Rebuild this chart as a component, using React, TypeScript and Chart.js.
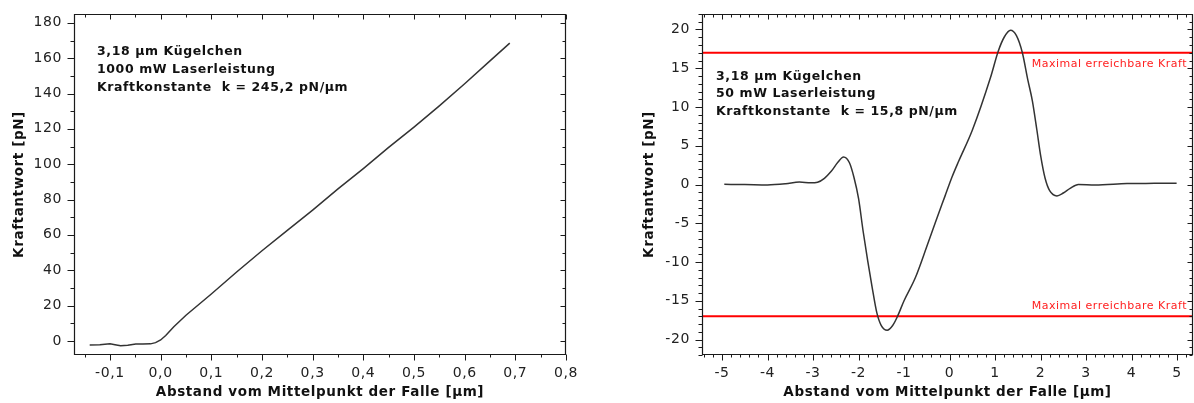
import React, { useEffect, useRef } from 'react';
import { Chart, registerables } from 'chart.js';

Chart.register(...registerables);

// ---------- data ----------
const leftX = [-0.14, -0.12, -0.1, -0.09, -0.079, -0.065, -0.049, -0.035, -0.02, -0.01, 0.0, 0.01, 0.026, 0.05, 0.1, 0.15, 0.2, 0.25, 0.3, 0.35, 0.4, 0.45, 0.5, 0.55, 0.6, 0.65, 0.689];
const leftY = [-2.3, -2.2, -1.7, -2.2, -2.8, -2.5, -1.8, -1.8, -1.7, -1.0, 0.5, 3.0, 8.0, 14.5, 26.5, 39.0, 51.0, 62.5, 74, 86, 97.5, 109.5, 121, 133, 145.5, 158.5, 168.5];

const rightX = [-4.95, -4.5, -4.0, -3.6, -3.3, -3.05, -2.9, -2.75, -2.6, -2.45, -2.33, -2.2, -2.1, -2.0, -1.9, -1.8, -1.7, -1.6, -1.5, -1.37, -1.25, -1.15, -1.0, -0.75, -0.5, -0.3, -0.1, 0.05, 0.2, 0.5, 0.9, 1.07, 1.2, 1.34, 1.47, 1.6, 1.72, 1.82, 1.92, 2.0, 2.1, 2.2, 2.36, 2.5, 2.65, 2.83, 3.2, 3.9, 4.5, 4.99];
const rightY = [0.02, 0.0, -0.05, 0.1, 0.32, 0.22, 0.3, 0.8, 1.7, 2.9, 3.55, 2.8, 0.9, -1.8, -6.0, -9.8, -13.3, -16.5, -18.2, -18.8, -18.2, -17.1, -15.0, -12.0, -8.0, -4.7, -1.5, 0.9, 3.0, 7.0, 13.8, 17.2, 19.0, 19.9, 19.2, 17.0, 13.5, 10.8, 7.0, 3.8, 0.8, -0.8, -1.47, -1.1, -0.5, 0.0, -0.05, 0.12, 0.15, 0.17];

const maxForce = 17;

const leftXTicks = [-0.1, 0, 0.1, 0.2, 0.3, 0.4, 0.5, 0.6, 0.7, 0.8];
const leftYTicks = [0, 20, 40, 60, 80, 100, 120, 140, 160, 180];
const rightXTicks = [-5, -4, -3, -2, -1, 0, 1, 2, 3, 4, 5];
const rightYTicks = [-20, -15, -10, -5, 0, 5, 10, 15, 20];

const leftNotes = ['3,18 µm Kügelchen', '1000 mW Laserleistung', 'Kraftkonstante  k = 245,2 pN/µm'];
const rightNotes = ['3,18 µm Kügelchen', '50 mW Laserleistung', 'Kraftkonstante  k = 15,8 pN/µm'];
const limitLabel = 'Maximal erreichbare Kraft';
const xTitle = 'Abstand vom Mittelpunkt der Falle [µm]';
const yTitle = 'Kraftantwort [pN]';

const FONT = "'DejaVu Sans', Verdana, sans-serif";

function fmt(v: number, decimals: number) {
  return v.toFixed(decimals).replace('.', ',');
}

// ---------- plugins ----------
const spacingPlugin = {
  id: 'spacing',
  beforeDraw(chart: any) {
    chart.ctx.letterSpacing = '0.6px';
  },
};

const frameTicks = {
  id: 'frameTicks',
  afterDraw(chart: any) {
    const o = chart.options.plugins.frameTicks;
    if (!o) return;
    const { ctx, chartArea } = chart;
    const { left, right, top, bottom } = chartArea;
    const xs = chart.scales.x;
    const ys = chart.scales.y;
    const L = Math.round(left) + 0.5;
    const R = Math.round(right) - 0.5;
    const T = Math.round(top) + 0.5;
    const B = Math.round(bottom) - 0.5;
    ctx.save();
    ctx.strokeStyle = '#1a1a1a';
    ctx.lineWidth = 1.2;
    ctx.beginPath();
    ctx.rect(L, T, R - L, B - T);
    ctx.stroke();

    const collect = (scale: any, major: number, minor: number) => {
      const out: { v: number; major: boolean }[] = [];
      const start = Math.ceil((scale.min - 1e-9) / minor);
      const end = Math.floor((scale.max + 1e-9) / minor);
      for (let i = start; i <= end; i++) {
        const v = i * minor;
        const r = v / major;
        out.push({ v, major: Math.abs(r - Math.round(r)) < 1e-6 });
      }
      return out;
    };
    ctx.lineWidth = 1;
    ctx.beginPath();
    for (const t of collect(xs, o.xMajor, o.xMinor)) {
      const px = Math.round(xs.getPixelForValue(t.v)) + 0.5;
      const outL = t.major ? 6 : 3;
      const inL = t.major ? 5 : 3;
      ctx.moveTo(px, B);
      ctx.lineTo(px, B + outL);
      ctx.moveTo(px, T);
      ctx.lineTo(px, T + inL);
    }
    for (const t of collect(ys, o.yMajor, o.yMinor)) {
      const py = Math.round(ys.getPixelForValue(t.v)) + 0.5;
      const outL = t.major ? 7 : 4;
      const inL = t.major ? 5 : 3;
      ctx.moveTo(L, py);
      ctx.lineTo(L - outL, py);
      ctx.moveTo(R, py);
      ctx.lineTo(R - inL, py);
    }
    ctx.stroke();
    ctx.restore();
  },
};

const notesPlugin = {
  id: 'notes',
  afterDraw(chart: any) {
    const o = chart.options.plugins.notes;
    if (!o) return;
    const { ctx, chartArea } = chart;
    ctx.save();
    ctx.letterSpacing = '0.6px';
    ctx.font = `bold 12.5px ${FONT}`;
    ctx.fillStyle = '#111';
    ctx.textAlign = 'left';
    ctx.textBaseline = 'middle';
    o.lines.forEach((s: string, i: number) => {
      ctx.fillText(s, chartArea.left + o.dx, chartArea.top + o.dy + i * o.lh);
    });
    if (o.limit) {
      const ys = chart.scales.y;
      ctx.letterSpacing = '0.5px';
      ctx.font = `11px ${FONT}`;
      ctx.fillStyle = '#ff2020';
      ctx.textAlign = 'right';
      const x = chartArea.right - 6;
      ctx.fillText(o.limit, x, ys.getPixelForValue(maxForce) + 11);
      ctx.fillText(o.limit, x, ys.getPixelForValue(-maxForce) - 10);
    }
    ctx.restore();
  },
};

function makeConfig(opts: any) {
  const {
    xs, ys, xMin, xMax, yMin, yMax, xTicks, yTicks, xDec, yDec,
    yWidth, padRight, yTitlePad, curveTension, notes, limits,
    xMajor, xMinor, yMajor, yMinor,
  } = opts;
  const datasets: any[] = [];
  datasets.push({
    data: xs.map((x: number, i: number) => ({ x, y: ys[i] })),
    borderColor: '#333',
    borderWidth: 1.5,
    pointRadius: 0,
    tension: curveTension,
    cubicInterpolationMode: curveTension > 0 ? 'monotone' : 'default',
    fill: false,
    order: 0,
  });
  if (limits) {
    [maxForce, -maxForce].forEach((f) => {
      datasets.push({
        data: [{ x: xMin, y: f }, { x: xMax, y: f }],
        borderColor: '#ff0000',
        borderWidth: 2,
        pointRadius: 0,
        fill: false,
        order: 1,
      });
    });
  }
  return {
    type: 'line',
    data: { datasets },
    plugins: [spacingPlugin, frameTicks, notesPlugin],
    options: {
      responsive: false,
      animation: false,
      devicePixelRatio: 1,
      layout: { padding: { left: 0, right: padRight, top: 14, bottom: 0 } },
      plugins: {
        legend: { display: false },
        tooltip: { enabled: false },
        frameTicks: { xMajor, xMinor, yMajor, yMinor },
        notes,
      },
      scales: {
        x: {
          type: 'linear',
          min: xMin,
          max: xMax,
          grid: { display: false, drawTicks: false },
          border: { display: false },
          afterBuildTicks: (s: any) => { s.ticks = xTicks.map((v: number) => ({ value: v })); },
          afterFit: (s: any) => { s.height = 48; s.paddingLeft = 0; s.paddingRight = 0; },
          ticks: {
            padding: 10,
            autoSkip: false,
            maxRotation: 0,
            color: '#222',
            font: { family: FONT, size: 14 },
            callback: (v: any) => fmt(Number(v), xDec),
          },
          title: {
            display: true,
            text: xTitle,
            color: '#111',
            font: { family: FONT, size: 13.5, weight: 'bold' },
            padding: { top: 0, bottom: 2.5 },
          },
        },
        y: {
          type: 'linear',
          min: yMin,
          max: yMax,
          grid: { display: false, drawTicks: false },
          border: { display: false },
          afterBuildTicks: (s: any) => { s.ticks = yTicks.map((v: number) => ({ value: v })); },
          afterFit: (s: any) => { s.width = yWidth; s.paddingTop = 0; s.paddingBottom = 0; },
          ticks: {
            padding: 12,
            autoSkip: false,
            color: '#222',
            font: { family: FONT, size: 14 },
            callback: (v: any) => fmt(Number(v), yDec),
          },
          title: {
            display: true,
            text: yTitle,
            color: '#111',
            font: { family: FONT, size: 13.5, weight: 'bold' },
            padding: { top: yTitlePad, bottom: 0 },
          },
        },
      },
    },
  };
}

function ChartCanvas({ config, left }: { config: any; left: number }) {
  const ref = useRef<HTMLCanvasElement | null>(null);
  useEffect(() => {
    if (!ref.current) return;
    const chart = new Chart(ref.current, config);
    return () => chart.destroy();
  }, [config]);
  return (
    <canvas
      ref={ref}
      width={597}
      height={403}
      style={{ position: 'absolute', left, top: 0, width: 597, height: 403 }}
    />
  );
}

const leftConfig = makeConfig({
  xs: leftX, ys: leftY, xMin: -0.171, xMax: 0.8, yMin: -8, yMax: 185,
  xTicks: leftXTicks, yTicks: leftYTicks, xDec: 1, yDec: 0,
  yWidth: 74, padRight: 31, yTitlePad: 11, curveTension: 0,
  notes: { lines: leftNotes, dx: 23, dy: 38, lh: 18 },
  limits: false, xMajor: 0.1, xMinor: 0.05, yMajor: 20, yMinor: 10,
});

const rightConfig = makeConfig({
  xs: rightX, ys: rightY, xMin: -5.44, xMax: 5.35, yMin: -22, yMax: 22,
  xTicks: rightXTicks, yTicks: rightYTicks, xDec: 0, yDec: 0,
  yWidth: 105, padRight: 1, yTitlePad: 44.5, curveTension: 0.4,
  notes: { lines: rightNotes, dx: 14, dy: 62.7, lh: 17.5, limit: limitLabel },
  limits: true, xMajor: 1, xMinor: 0.2, yMajor: 5, yMinor: 1,
});

export default function App() {
  return (
    <div style={{ position: 'absolute', left: 0, top: 0, width: 1194, height: 403, background: '#fff' }}>
      <ChartCanvas config={leftConfig} left={0} />
      <ChartCanvas config={rightConfig} left={597} />
    </div>
  );
}
